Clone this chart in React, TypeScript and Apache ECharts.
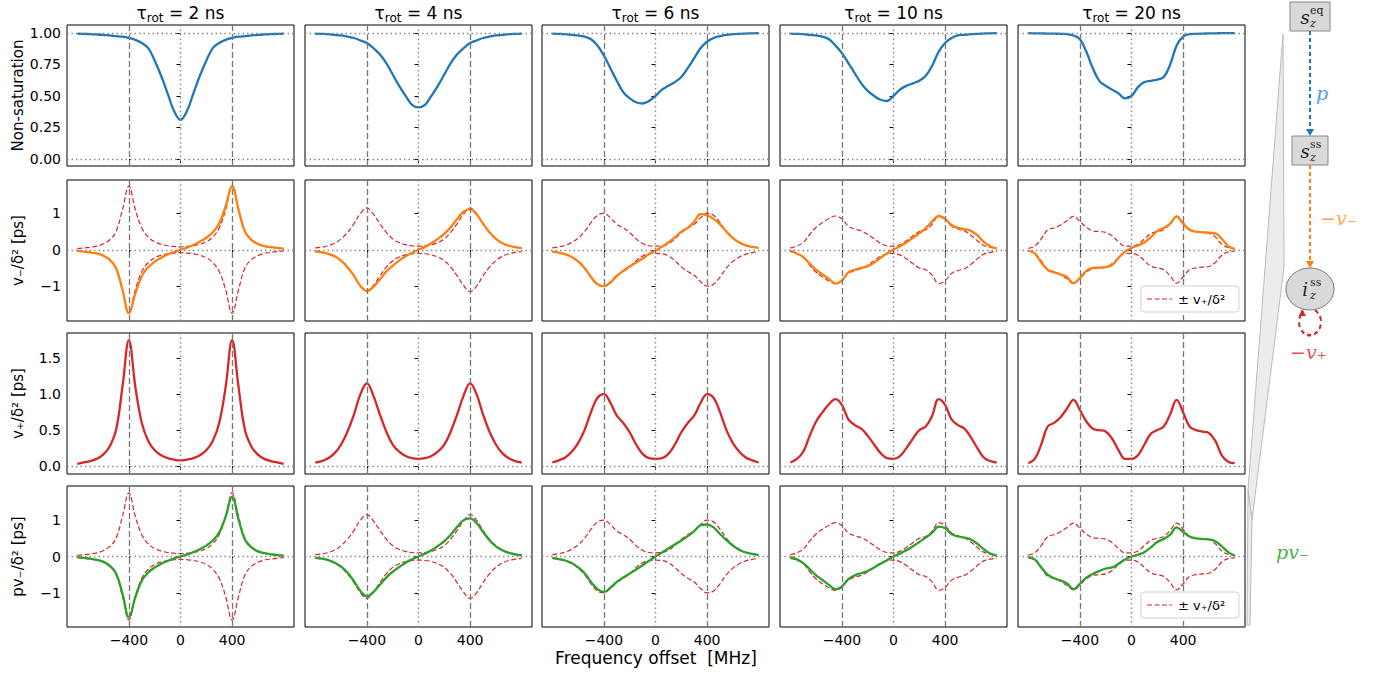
import { useEffect, useRef } from 'react'
import * as echarts from 'echarts'

// frequency offset grid [MHz]
const X = [-800, -750, -700, -650, -600, -550, -500, -450, -400, -350, -300, -250, -200, -150, -100, -50, 0,
  50, 100, 150, 200, 250, 300, 350, 400, 450, 500, 550, 600, 650, 700, 750, 800]

const TITLES = ['2', '4', '6', '10', '20']

// non-saturation
const N1 = [0.995, 0.993, 0.99, 0.988, 0.985, 0.98, 0.975, 0.97, 0.96, 0.945, 0.92, 0.88, 0.78, 0.66, 0.52, 0.38, 0.31, 0.38, 0.52, 0.66, 0.78, 0.88, 0.92, 0.945, 0.96, 0.97, 0.975, 0.98, 0.985, 0.988, 0.99, 0.993, 0.995]
const N2 = [0.995, 0.993, 0.99, 0.985, 0.98, 0.97, 0.96, 0.94, 0.92, 0.88, 0.83, 0.76, 0.67, 0.58, 0.5, 0.43, 0.41, 0.43, 0.5, 0.58, 0.67, 0.76, 0.83, 0.88, 0.92, 0.94, 0.96, 0.97, 0.98, 0.985, 0.99, 0.993, 0.995]
const N3 = [0.995, 0.993, 0.99, 0.985, 0.98, 0.97, 0.95, 0.9, 0.82, 0.72, 0.62, 0.53, 0.48, 0.45, 0.44, 0.46, 0.5, 0.55, 0.58, 0.61, 0.65, 0.72, 0.8, 0.88, 0.93, 0.96, 0.975, 0.985, 0.99, 0.993, 0.995, 0.997, 0.998]
const N4 = [0.995, 0.993, 0.99, 0.985, 0.98, 0.97, 0.95, 0.9, 0.84, 0.76, 0.68, 0.6, 0.54, 0.5, 0.47, 0.46, 0.5, 0.55, 0.58, 0.6, 0.62, 0.66, 0.74, 0.85, 0.92, 0.96, 0.98, 0.985, 0.99, 0.993, 0.995, 0.997, 0.998]
const N5 = [0.998, 0.997, 0.996, 0.995, 0.994, 0.993, 0.99, 0.98, 0.95, 0.85, 0.72, 0.62, 0.58, 0.55, 0.52, 0.48, 0.5, 0.57, 0.61, 0.62, 0.63, 0.65, 0.75, 0.9, 0.97, 0.99, 0.993, 0.995, 0.996, 0.997, 0.998, 0.998, 0.998]

// v+ / delta^2 [ps]
const P1 = [0.03, 0.05, 0.07, 0.1, 0.16, 0.27, 0.5, 1.1, 1.75, 1.1, 0.6, 0.35, 0.22, 0.15, 0.11, 0.09, 0.08, 0.09, 0.11, 0.15, 0.22, 0.35, 0.6, 1.1, 1.75, 1.1, 0.5, 0.27, 0.16, 0.1, 0.07, 0.05, 0.03]
const P2 = [0.05, 0.07, 0.11, 0.18, 0.3, 0.48, 0.72, 1.0, 1.15, 0.98, 0.72, 0.48, 0.3, 0.2, 0.14, 0.11, 0.1, 0.11, 0.14, 0.2, 0.3, 0.48, 0.72, 0.98, 1.15, 1.0, 0.72, 0.48, 0.3, 0.18, 0.11, 0.07, 0.05]
const P3 = [0.05, 0.08, 0.12, 0.2, 0.32, 0.5, 0.75, 0.95, 1.0, 0.88, 0.7, 0.6, 0.47, 0.3, 0.17, 0.11, 0.1, 0.11, 0.17, 0.3, 0.47, 0.6, 0.7, 0.88, 1.0, 0.95, 0.75, 0.5, 0.32, 0.2, 0.12, 0.08, 0.05]
const P4 = [0.05, 0.1, 0.2, 0.42, 0.62, 0.75, 0.86, 0.93, 0.85, 0.65, 0.57, 0.52, 0.42, 0.3, 0.18, 0.11, 0.1, 0.14, 0.25, 0.38, 0.5, 0.55, 0.7, 0.93, 0.85, 0.65, 0.57, 0.52, 0.4, 0.25, 0.12, 0.07, 0.05]
const P5 = [0.04, 0.1, 0.3, 0.55, 0.6, 0.68, 0.8, 0.92, 0.78, 0.62, 0.52, 0.5, 0.48, 0.38, 0.22, 0.1, 0.1, 0.15, 0.3, 0.45, 0.5, 0.55, 0.72, 0.92, 0.75, 0.55, 0.5, 0.48, 0.46, 0.35, 0.15, 0.06, 0.04]

// v- / delta^2 [ps]
const M1 = [-0.03, -0.05, -0.07, -0.1, -0.16, -0.27, -0.5, -1.1, -1.75, -1.2, -0.72, -0.48, -0.33, -0.22, -0.13, -0.06, 0, 0.06, 0.13, 0.22, 0.33, 0.48, 0.72, 1.2, 1.75, 1.1, 0.5, 0.27, 0.16, 0.1, 0.07, 0.05, 0.03]
const M2 = [-0.04, -0.07, -0.11, -0.18, -0.3, -0.48, -0.72, -1.0, -1.13, -1.02, -0.82, -0.6, -0.44, -0.3, -0.18, -0.08, 0, 0.08, 0.18, 0.3, 0.44, 0.62, 0.85, 1.05, 1.12, 0.98, 0.72, 0.48, 0.3, 0.18, 0.11, 0.07, 0.04]
const M3 = [-0.05, -0.08, -0.12, -0.2, -0.32, -0.5, -0.75, -0.95, -1.0, -0.9, -0.72, -0.58, -0.46, -0.35, -0.24, -0.12, -0.02, 0.08, 0.2, 0.34, 0.5, 0.6, 0.78, 0.98, 0.95, 0.85, 0.7, 0.5, 0.32, 0.2, 0.12, 0.08, 0.05]
const M4 = [-0.02, -0.1, -0.2, -0.38, -0.55, -0.68, -0.8, -0.93, -0.85, -0.62, -0.55, -0.5, -0.45, -0.35, -0.22, -0.1, 0, 0.1, 0.2, 0.33, 0.45, 0.6, 0.78, 0.93, 0.85, 0.68, 0.6, 0.57, 0.52, 0.4, 0.22, 0.1, 0.03]
const M5 = [-0.02, -0.1, -0.35, -0.55, -0.62, -0.68, -0.75, -0.92, -0.78, -0.58, -0.5, -0.49, -0.48, -0.42, -0.22, -0.05, 0.05, 0.12, 0.2, 0.35, 0.52, 0.6, 0.72, 0.92, 0.72, 0.55, 0.5, 0.48, 0.47, 0.45, 0.3, 0.1, 0.02]

// p v- / delta^2 [ps]
const G1 = [-0.02, -0.04, -0.06, -0.09, -0.14, -0.25, -0.46, -1.02, -1.68, -1.12, -0.66, -0.44, -0.3, -0.2, -0.12, -0.05, 0, 0.05, 0.12, 0.2, 0.3, 0.44, 0.66, 1.1, 1.65, 1.02, 0.46, 0.25, 0.14, 0.09, 0.06, 0.04, 0.02]
const G2 = [-0.03, -0.06, -0.1, -0.17, -0.28, -0.45, -0.68, -0.95, -1.1, -0.98, -0.78, -0.58, -0.42, -0.29, -0.17, -0.08, 0, 0.08, 0.17, 0.29, 0.42, 0.6, 0.82, 1.0, 1.05, 0.92, 0.68, 0.45, 0.28, 0.17, 0.1, 0.06, 0.03]
const G3 = [-0.04, -0.07, -0.11, -0.18, -0.3, -0.46, -0.7, -0.9, -0.98, -0.86, -0.7, -0.58, -0.47, -0.36, -0.24, -0.12, 0, 0.11, 0.22, 0.33, 0.44, 0.56, 0.7, 0.86, 0.88, 0.8, 0.62, 0.45, 0.3, 0.18, 0.11, 0.07, 0.04]
const G4 = [-0.02, -0.08, -0.18, -0.35, -0.52, -0.65, -0.78, -0.9, -0.82, -0.62, -0.52, -0.46, -0.4, -0.3, -0.2, -0.1, 0, 0.08, 0.17, 0.28, 0.4, 0.52, 0.66, 0.82, 0.78, 0.62, 0.55, 0.52, 0.47, 0.35, 0.2, 0.08, 0.02]
const G5 = [-0.02, -0.08, -0.3, -0.5, -0.6, -0.66, -0.74, -0.9, -0.75, -0.58, -0.48, -0.4, -0.33, -0.3, -0.2, -0.08, 0, 0.05, 0.12, 0.25, 0.4, 0.48, 0.6, 0.8, 0.68, 0.55, 0.5, 0.48, 0.47, 0.42, 0.28, 0.12, 0.02]

const NON_SAT = [N1, N2, N3, N4, N5]
const V_PLUS = [P1, P2, P3, P4, P5]
const V_MINUS = [M1, M2, M3, M4, M5]
const PV_MINUS = [G1, G2, G3, G4, G5]

const ROW_LABELS = ['Non-saturation', 'v₋/δ² [ps]', 'v₊/δ² [ps]', 'pv₋/δ² [ps]']
const ROW_TICKS = [[0, 0.25, 0.5, 0.75, 1], [-1, 0, 1], [0, 0.5, 1, 1.5], [-1, 0, 1]]
const ROW_RANGE = [[-0.056, 1.063], [-1.96, 1.92], [-0.11, 1.85], [-1.94, 1.94]]
const X_TICKS = [-400, 0, 400]

const BLUE = '#1f77b4'
const ORANGE = '#ff7f0e'
const RED = '#d62728'
const GREEN = '#2ca02c'
const FONT = 'DejaVu Sans'

const COL_LEFT = [67, 305, 542, 780, 1018]
const ROW_TOP = [25, 180, 333, 486]
const W = 227
const H = 141

const pairs = (ys: number[], sign = 1) => X.map((x, i) => [x, sign * ys[i]])

export default function App() {
  const ref = useRef<HTMLDivElement>(null)

  useEffect(() => {
    if (!ref.current) return
    const chart = echarts.init(ref.current, null, { renderer: 'svg' })

    const grid: any[] = []
    const xAxis: any[] = []
    const yAxis: any[] = []
    const series: any[] = []
    const graphic: any[] = []

    const minus = (v: number) => String(v).replace('-', '−')

    for (let r = 0; r < 4; r++) {
      for (let c = 0; c < 5; c++) {
        const g = r * 5 + c
        grid.push({
          left: COL_LEFT[c], top: ROW_TOP[r], width: W, height: H,
          show: true, borderColor: '#000', borderWidth: 1, backgroundColor: 'transparent',
        })
        xAxis.push({
          type: 'value', gridIndex: g, min: -880, max: 880,
          axisLine: { show: false },
          splitLine: { show: false },
          axisTick: { show: true, customValues: X_TICKS, length: 4, lineStyle: { color: '#000' } },
          axisLabel: {
            show: r === 3, customValues: X_TICKS, formatter: minus,
            color: '#000', fontFamily: FONT, fontSize: 14, margin: 6,
          },
        })
        yAxis.push({
          type: 'value', gridIndex: g, min: ROW_RANGE[r][0], max: ROW_RANGE[r][1],
          axisLine: { show: false },
          splitLine: { show: false },
          axisTick: { show: true, customValues: ROW_TICKS[r], length: 4, lineStyle: { color: '#000' } },
          axisLabel: {
            show: c === 0, customValues: ROW_TICKS[r],
            formatter: (v: number) => r === 0 ? v.toFixed(2) : r === 2 ? v.toFixed(1) : minus(v),
            color: '#000', fontFamily: FONT, fontSize: 14, margin: 6,
          },
        })

        const hLines = r === 0 ? [0, 1] : [0]
        const markLine = {
          silent: true, symbol: 'none', label: { show: false },
          data: [
            { xAxis: -400, lineStyle: { color: '#777', type: [6, 3], width: 1.3 } },
            { xAxis: 400, lineStyle: { color: '#777', type: [6, 3], width: 1.3 } },
            { xAxis: 0, lineStyle: { color: '#888', type: [1.5, 3], width: 1.4 } },
            ...hLines.map(v => ({ yAxis: v, lineStyle: { color: '#888', type: [1.5, 3], width: 1.4 } })),
          ],
        }

        const base = { type: 'line', xAxisIndex: g, yAxisIndex: g, smooth: 0.4, symbol: 'none', z: 3 }
        if (r === 1 || r === 3) {
          series.push({ ...base, data: pairs(V_PLUS[c]), lineStyle: { color: RED, width: 1.2, type: [5, 2.5] }, z: 2 })
          series.push({ ...base, data: pairs(V_PLUS[c], -1), lineStyle: { color: RED, width: 1.2, type: [5, 2.5] }, z: 2 })
        }
        const main = r === 0 ? NON_SAT[c] : r === 1 ? V_MINUS[c] : r === 2 ? V_PLUS[c] : PV_MINUS[c]
        const color = [BLUE, ORANGE, RED, GREEN][r]
        series.push({ ...base, data: pairs(main), lineStyle: { color, width: 2.3 }, markLine })

        if (r === 0) {
          graphic.push({
            type: 'text', x: COL_LEFT[c] + W / 2, y: 13,
            style: {
              text: `{a|τ}{s|rot}{a| = ${TITLES[c]} ns}`, align: 'center', verticalAlign: 'middle',
              rich: {
                a: { fontFamily: FONT, fontSize: 17, fill: '#000' },
                s: { fontFamily: FONT, fontSize: 12, fill: '#000', padding: [9, 0, 0, 0] },
              },
            },
          })
        }
        if (c === 4 && (r === 1 || r === 3)) {
          const ly = ROW_TOP[r] + 106
          graphic.push(
            { type: 'rect', shape: { x: 1141, y: ly, width: 98, height: 26, r: 3 }, style: { fill: '#fff', stroke: '#d0d0d0', lineWidth: 1 }, z: 10 },
            { type: 'line', shape: { x1: 1147, y1: ly + 13, x2: 1172, y2: ly + 13 }, style: { stroke: RED, lineWidth: 1.2, lineDash: [5, 2.5] }, z: 11 },
            { type: 'text', x: 1178, y: ly + 13, style: { text: '± v₊/δ²', fontFamily: FONT, fontSize: 13, fill: '#000', verticalAlign: 'middle' }, z: 11 },
          )
        }
      }
      graphic.push({
        type: 'text', x: 18, y: ROW_TOP[r] + H / 2, rotation: Math.PI / 2,
        style: { text: ROW_LABELS[r], fontFamily: FONT, fontSize: 15, fill: '#000', align: 'center', verticalAlign: 'middle' },
      })
    }

    graphic.push({
      type: 'text', x: 656, y: 658,
      style: { text: 'Frequency offset  [MHz]', fontFamily: FONT, fontSize: 17, fill: '#000', align: 'center', verticalAlign: 'middle' },
    })

    // right-hand diagram
    const serif = 'DejaVu Serif'
    const math = (x: number, y: number, main: string, sup: string, sub: string) => [
      { type: 'text', x, y, style: { text: main, fontFamily: serif, fontStyle: 'italic', fontSize: 18, fill: '#222', align: 'center', verticalAlign: 'middle' }, z: 12 },
      { type: 'text', x: x + 5, y: y - 7, style: { text: sup, fontFamily: serif, fontSize: 11, fill: '#222', verticalAlign: 'middle' }, z: 12 },
      { type: 'text', x: x + 5, y: y + 6, style: { text: sub, fontFamily: serif, fontStyle: 'italic', fontSize: 11, fill: '#222', verticalAlign: 'middle' }, z: 12 },
    ]
    const arrow = (x: number, y1: number, y2: number, color: string) => [
      { type: 'line', shape: { x1: x, y1, x2: x, y2: y2 - 4 }, style: { stroke: color, lineWidth: 2, lineDash: [4, 3] } },
      { type: 'polygon', shape: { points: [[x - 4, y2 - 7], [x + 4, y2 - 7], [x, y2]] }, style: { fill: color } },
    ]
    const label = (x: number, y: number, text: string, color: string) => ({
      type: 'text', x, y, style: { text, fontFamily: serif, fontStyle: 'italic', fontSize: 19, fill: color, verticalAlign: 'middle' },
    })
    graphic.push(
      { type: 'polygon', shape: { points: [[1283, 34], [1284, 267], [1252, 520], [1248, 490]] }, style: { fill: '#ececec', stroke: '#bbb', lineWidth: 1 } },
      { type: 'polygon', shape: { points: [[1248, 490], [1252, 520], [1250, 625], [1247, 625]] }, style: { fill: '#ececec', stroke: '#bbb', lineWidth: 1 } },
      { type: 'rect', shape: { x: 1290, y: 2, width: 40, height: 29 }, style: { fill: '#d9d9d9', stroke: '#888', lineWidth: 1 } },
      ...math(1305, 17, 's', 'eq', 'z'),
      ...arrow(1310, 31, 136, BLUE),
      label(1316, 93, 'p', '#5b9bd5'),
      { type: 'rect', shape: { x: 1292, y: 136, width: 36, height: 29 }, style: { fill: '#d9d9d9', stroke: '#888', lineWidth: 1 } },
      ...math(1305, 151, 's', 'ss', 'z'),
      ...arrow(1310, 165, 268, ORANGE),
      label(1320, 218, '−v₋', '#ffa64d'),
      { type: 'ellipse', shape: { cx: 1310, cy: 289, rx: 24, ry: 21 }, style: { fill: '#d9d9d9', stroke: '#777', lineWidth: 1 } },
      ...math(1305, 289, 'i', 'ss', 'z'),
      { type: 'arc', shape: { cx: 1310, cy: 322, r: 11, startAngle: -Math.PI * 0.35, endAngle: Math.PI * 1.3 }, scaleY: 1.2, originY: 322, style: { stroke: RED, lineWidth: 2, lineDash: [4, 3], fill: 'none' } },
      { type: 'polygon', shape: { points: [[1299, 316], [1306, 316], [1302, 309]] }, style: { fill: RED } },
      label(1290, 352, '−v₊', '#e45050'),
      label(1276, 552, 'pv₋', '#4cb04c'),
    )

    chart.setOption({ animation: false, grid, xAxis, yAxis, series, graphic })
    return () => chart.dispose()
  }, [])

  return <div ref={ref} style={{ position: 'fixed', left: 0, top: 0, width: 1379, height: 673, background: '#fff' }} />
}
